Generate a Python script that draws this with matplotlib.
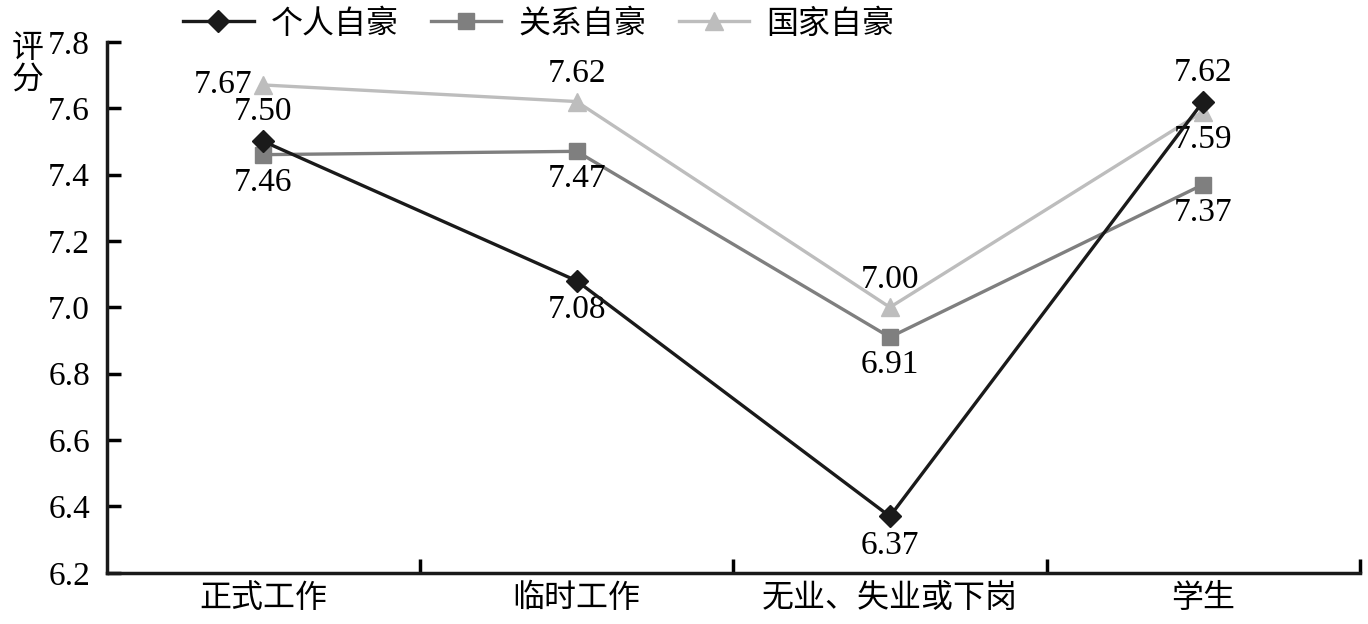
import matplotlib
matplotlib.use("Agg")
import matplotlib.pyplot as plt

plt.rcParams['font.family'] = ['Liberation Serif', 'Noto Sans CJK SC']

categories = ['正式工作', '临时工作', '无业、失业或下岗', '学生']
personal = [7.50, 7.08, 6.37, 7.62]
relation = [7.46, 7.47, 6.91, 7.37]
country = [7.67, 7.62, 7.00, 7.59]

fig = plt.figure(figsize=(13.68, 6.24), dpi=100)
ax = fig.add_axes([0.078, 0.082, 0.916, 0.851])

x = [0, 1, 2, 3]
ax.plot(x, personal, color='#1a1a1a', lw=2.4, marker='D', ms=11, label='个人自豪', zorder=4)
ax.plot(x, relation, color='#7f7f7f', lw=2.4, marker='s', ms=11, label='关系自豪', zorder=3)
ax.plot(x, country, color='#bdbdbd', lw=2.4, marker='^', ms=13, label='国家自豪', zorder=2)

fs = 24
cfs = 23
# personal labels
offs_p = [(0, 10, 'bottom'), (0, -10, 'top'), (0, -10, 'top'), (0, 10, 'bottom')]
for xi, v, (dx, dy, va) in zip(x, personal, offs_p):
    ax.annotate(f'{v:.2f}', (xi, v), xytext=(dx, dy), textcoords='offset points',
                ha='center', va=va, fontsize=fs)
for xi, v in zip(x, relation):
    ax.annotate(f'{v:.2f}', (xi, v), xytext=(0, -9), textcoords='offset points',
                ha='center', va='top', fontsize=fs)
for i, (xi, v) in enumerate(zip(x, country)):
    if i == 0:
        ax.annotate(f'{v:.2f}', (xi, v), xytext=(-8, 0), textcoords='offset points',
                    ha='right', va='center', fontsize=fs)
    elif i == 3:
        ax.annotate(f'{v:.2f}', (xi, v), xytext=(0, -9), textcoords='offset points',
                    ha='center', va='top', fontsize=fs)
    else:
        ax.annotate(f'{v:.2f}', (xi, v), xytext=(0, 9), textcoords='offset points',
                    ha='center', va='bottom', fontsize=fs)

ax.set_xlim(-0.5, 3.5)
ax.set_ylim(6.2, 7.8)
ax.set_yticks([6.2, 6.4, 6.6, 6.8, 7.0, 7.2, 7.4, 7.6, 7.8])
ax.set_yticklabels([f'{t:.1f}' for t in ax.get_yticks()], fontsize=fs)
ax.set_xticks([0.5, 1.5, 2.5, 3.5])
ax.set_xticklabels([])
ax.set_xticks(x, minor=True)
ax.set_xticklabels(categories, minor=True, fontsize=cfs)
ax.tick_params(axis='x', which='major', direction='in', length=10, width=2.5)
ax.tick_params(axis='x', which='minor', length=0, pad=8)
ax.tick_params(axis='y', direction='in', length=10, width=2.5, pad=12)
for s in ['top', 'right']:
    ax.spines[s].set_visible(False)
for s in ['left', 'bottom']:
    ax.spines[s].set_linewidth(2.5)
    ax.spines[s].set_color('#1a1a1a')

fig.text(0.02, 0.895, '评\n分', fontsize=cfs, ha='center', va='center', linespacing=1.1)

ax.legend(loc='lower center', bbox_to_anchor=(0.345, 0.98), ncol=3, frameon=False,
          fontsize=cfs, handlelength=2.2, columnspacing=1.0, handletextpad=0.55,
          borderaxespad=0)

fig.savefig('out.png', dpi=100)
